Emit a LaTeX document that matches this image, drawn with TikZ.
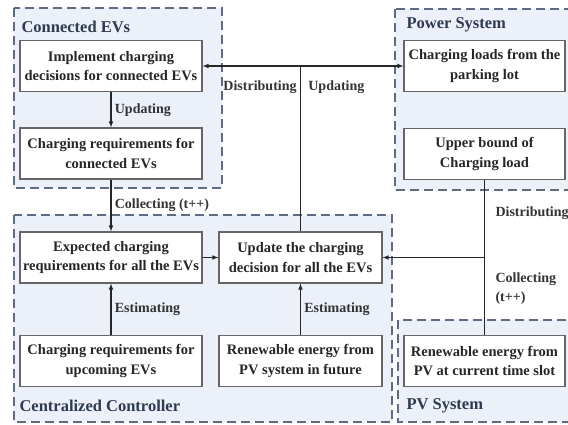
\documentclass[tikz,border=0pt]{standalone}
\usepackage{fontspec}
\setmainfont{Liberation Serif}
\usepackage{tikz}
\usetikzlibrary{arrows,positioning,calc}
\definecolor{grpfill}{HTML}{ECF0F8}
\definecolor{grpline}{HTML}{5F6B85}
\definecolor{grptext}{HTML}{2E3A52}

\begin{document}
\begin{tikzpicture}[x=1pt,y=-1pt,>=latex,
	blk/.style={draw=gray!80!black,line width=1.1pt,fill=white,minimum height=51pt,align=center,
		font=\fontsize{14.5}{19.5}\selectfont\bfseries,text=black!85,inner sep=1pt},
	grp/.style={draw=grpline,dashed,dash pattern=on 9pt off 5pt,line width=1.4pt,fill=grpfill},
	grptitle/.style={anchor=west,font=\fontsize{16.5}{19}\selectfont\bfseries,text=grptext},
	lbl/.style={font=\fontsize{14}{19}\selectfont\bfseries,text=black!80,align=left},
	conn/.style={line width=1.1pt,black!85}]
	\clip (0,0) rectangle (568,425);
	\useasboundingbox (0,0) rectangle (568,425);
	% groups
	\draw[grp] (14,8) rectangle (222,188);
	\draw[grp] (395,9) rectangle (576,190);
	\draw[grp] (14,215) rectangle (392,422);
	\draw[grp] (398,320) rectangle (576,422);
	\node[grptitle] (tev) at (18,27) {Connected EVs};
	\node[grptitle] (tps) at (403,25) {Power System};
	\node[grptitle] (tcc) at (16,406) {Centralized Controller};
	\node[grptitle] (tpv) at (403,406) {PV System};
	% blocks
	\node[blk,minimum width=182pt] (impl) at (111,66) {Implement charging\\decisions for connected EVs};
	\node[blk,minimum width=182pt] (reqcon) at (111,153.5) {Charging requirements for\\connected EVs};
	\node[blk,minimum width=161pt] (loads) at (484.5,66) {Charging loads from the\\parking lot};
	\node[blk,minimum width=161pt] (upper) at (484.5,154) {Upper bound of\\Charging load};
	\node[blk,minimum width=182pt] (expect) at (111,257.5) {Expected charging\\requirements for all the EVs};
	\node[blk,minimum width=163pt] (update) at (300.5,257.5) {Update the charging\\decision for all the EVs};
	\node[blk,minimum width=182pt] (upcoming) at (111,361) {Charging requirements for\\upcoming EVs};
	\node[blk,minimum width=163pt] (future) at (300.5,361) {Renewable energy from\\PV system in future};
	\node[blk,minimum width=161pt] (pvnow) at (484.5,361) {Renewable energy from\\PV at current time slot};
	% connectors
	\draw[conn,->] (impl) -- (reqcon) node[midway,right,lbl]{Updating};
	\draw[conn,->] (reqcon) -- (expect) node[midway,right,lbl]{Collecting (t++)};
	\draw[conn,->] (upcoming) -- (expect) node[midway,right,lbl]{Estimating};
	\draw[conn,->] (future) -- (update) node[midway,right,lbl]{Estimating};
	\draw[conn,->] (expect) -- (update);
	\draw[conn,<->] (impl.east) -- (loads.west);
	\draw[conn] (update.north) -- (update.north |- impl.east)
		node[pos=0.87,left,lbl]{Distributing} node[pos=0.87,right=4pt,lbl]{Updating};
	\draw[conn] (upper.south) -- (pvnow.north);
	\coordinate (junc) at (upper.south |- update.east);
	\draw[conn,->] (junc) -- (update.east);
	\node[lbl,anchor=west] (ldist) at (492,213) {Distributing};
	\node[lbl,anchor=west] (lcoll) at (492,289) {Collecting\\(t++)};
\end{tikzpicture}
\end{document}
